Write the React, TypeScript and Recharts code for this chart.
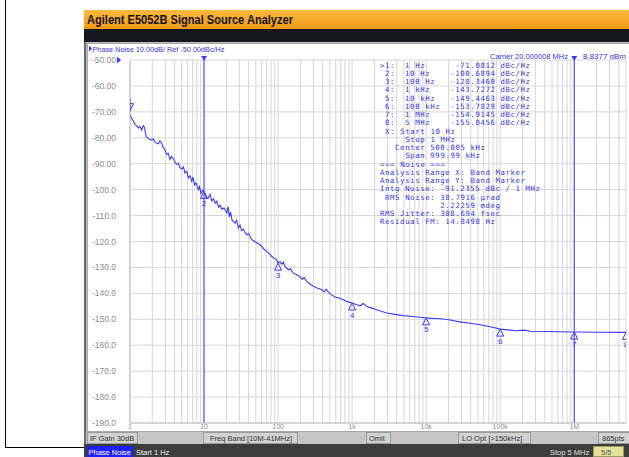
import React from 'react';
import {
  ComposedChart,
  Line,
  Scatter,
  XAxis,
  YAxis,
  CartesianGrid,
  ReferenceLine,
  ReferenceDot,
} from 'recharts';

// ---------- data ----------
const freqHz = [
  1, 1.05, 1.08, 1.11, 1.17, 1.23, 1.29, 1.36, 1.44, 1.51, 1.57, 1.65, 1.75, 1.86, 1.98, 2.08, 2.18, 2.39, 2.54,
  2.68, 2.82, 2.97, 3.13, 3.29, 3.47, 3.64, 3.85, 4.06, 4.28, 4.5, 4.74, 5.05, 5.28, 5.53, 5.84, 6.14, 6.47, 6.82,
  7.1, 7.44, 7.79, 8.37, 8.69, 9.1, 9.55, 10, 10.6, 11.4, 12.05, 12.7, 13.4, 14.1, 14.9, 15.7, 16.4, 17.5, 18.6,
  20.3, 21.1, 22, 22.8, 23.9, 26.2, 27.5, 29.1, 30.6, 32.1, 34, 35.8, 37.8, 39.9, 44.2, 47.4, 51.5, 55.4, 60.2,
  64.7, 70.3, 75.5, 82.2, 88.3, 96, 100, 106, 113, 118, 124, 138, 145, 161, 175, 198, 211, 224, 244, 271, 300, 337,
  390, 419, 446, 479, 520, 589, 667, 763, 856, 1000, 1133, 1283, 1409, 1581, 1808, 2158, 2467, 2944, 3581, 4931,
  6471, 8299, 10000, 13240, 17130, 21090, 26000, 31620, 39330, 53700, 73300, 100000, 128000, 168000, 211000,
  254000, 427000, 647000, 1000000, 2240000, 5000000,
];
const noiseDbc = [
  -71.1, -72.5, -72.9, -73.6, -74.8, -75.4, -76.2, -75.6, -77.0, -75.3, -76.0, -79.6, -80.2, -80.7, -80.9, -80.4,
  -81.8, -82.3, -81.2, -82.0, -83.9, -84.6, -86.5, -86.0, -88.4, -87.2, -88.1, -89.5, -90.3, -89.8, -91.6, -92.0,
  -91.3, -93.6, -93.0, -95.5, -94.6, -96.8, -95.2, -98.2, -97.4, -100.0, -98.8, -101.5, -100.2, -100.7, -102.8,
  -103.2, -101.8, -104.3, -103.5, -105.2, -104.4, -106.8, -106.0, -107.6, -107.0, -109.0, -106.5, -110.5, -108.6,
  -111.8, -112.9, -111.8, -114.8, -113.6, -115.8, -115.2, -116.6, -117.4, -116.9, -119.3, -119.8, -120.6, -121.0,
  -121.9, -123.0, -123.8, -124.6, -125.8, -126.4, -127.2, -128.3, -127.8, -128.8, -127.9, -129.6, -130.9, -130.5,
  -132.2, -132.7, -133.5, -134.6, -133.9, -135.4, -136.5, -137.3, -137.9, -138.6, -139.4, -138.4, -139.6, -140.5,
  -141.4, -141.8, -142.5, -143.2, -143.7, -144.3, -144.8, -143.9, -145.1, -145.6, -146.3, -146.9, -147.6, -148.0,
  -148.6, -148.9, -149.2, -149.45, -149.7, -149.9, -150.3, -150.8, -151.2, -151.5, -152.1, -152.9, -153.8, -154.1,
  -154.4, -154.2, -154.6, -154.7, -154.8, -154.9, -155.0, -155.05,
];
const markerFreqHz = [1, 10, 100, 1000, 10000, 100000, 1000000, 5000000];
const markerDbc = [-71.0812, -100.6894, -128.346, -143.7272, -149.4463, -153.7829, -154.9145, -155.0456];
const markerNames = ['1 Hz', '10 Hz', '100 Hz', '1 kHz', '10 kHz', '100 kHz', '1 MHz', '5 MHz'];
const yTicks = [-50, -60, -70, -80, -90, -100, -110, -120, -130, -140, -150, -160, -170, -180, -190];
const xDecades = [1, 10, 100, 1000, 10000, 100000, 1000000];
const xDecadeLabels = ['1', '10', '100', '1k', '10k', '100k', '1M'];
const bandLimitsHz = [10, 1000000];
const summaryLines = [
  ' X: Start 10 Hz',
  '     Stop 1 MHz',
  '   Center 500.005 kHz',
  '     Span 999.99 kHz',
  '=== Noise ===',
  'Analysis Range X: Band Marker',
  'Analysis Range Y: Band Marker',
  'Intg Noise: -91.2355 dBc / 1 MHz',
  ' RMS Noise: 38.7916 \u00b5rad',
  '            2.22259 mdeg',
  'RMS Jitter: 308.694 fsec',
  'Residual FM: 14.8498 Hz',
];

// ---------- styles ----------
const BLUE = '#3a3aff';
const TXT_BLUE = '#3434e8';
const GRID = '#d6d6d6';
const SANS = "'Liberation Sans', Arial, sans-serif";
const MONO = "'DejaVu Sans Mono', 'Liberation Mono', monospace";

const gridTicks: number[] = [];
xDecades.forEach((d) => {
  for (let k = 1; k <= 9; k++) {
    const v = d * k;
    if (v <= 5000000) gridTicks.push(v);
  }
});

const fmtY = (v: number) => (v > -100 ? v.toFixed(2) : v.toFixed(1));

const YTick = (p: any) => {
  const v = p.payload.value;
  return (
    <g>
      <text x={p.x - 6} y={p.y + 3} textAnchor="end" fontSize={8.5} fontFamily={SANS} fill="#8c8c8c">
        {fmtY(v)}
      </text>
      {v === -50 ? <polygon points={`${p.x - 5},${p.y - 3.5} ${p.x - 5},${p.y + 3.5} ${p.x - 1},${p.y}`} fill={BLUE} /> : null}
    </g>
  );
};

const XTick = (p: any) => {
  const v = p.payload.value;
  const idx = xDecades.indexOf(v);
  if (idx < 0) return <g />;
  return (
    <text x={p.x} y={p.y + 6} textAnchor="middle" fontSize={7} fontFamily={SANS} fill="#8c8c8c">
      {xDecadeLabels[idx]}
    </text>
  );
};

const TraceMarker = (p: any) => {
  const { cx, cy, payload } = p;
  if (payload.n === 1) {
    return (
      <g>
        <line x1={cx} y1={cy - 16} x2={cx} y2={cy - 3} stroke={BLUE} strokeWidth={1} />
        <polygon points={`${cx - 3.5},${cy - 11} ${cx + 3.5},${cy - 11} ${cx},${cy - 4}`} fill="none" stroke={BLUE} strokeWidth={1} />
      </g>
    );
  }
  return (
    <g>
      <polygon points={`${cx},${cy} ${cx - 3.5},${cy + 7} ${cx + 3.5},${cy + 7}`} fill="#fff" fillOpacity={0} stroke={BLUE} strokeWidth={1} />
      <text x={cx} y={cy + 14.5} textAnchor="middle" fontSize={8} fontFamily={SANS} fill={TXT_BLUE}>
        {payload.n}
      </text>
    </g>
  );
};

const AxisMarker = (p: any) => {
  const { cx, cy, payload } = p;
  const active = payload.n === 1;
  return (
    <polygon
      points={`${cx},${cy} ${cx - 3.5},${cy + 6} ${cx + 3.5},${cy + 6}`}
      fill={active ? BLUE : 'none'}
      stroke={BLUE}
      strokeWidth={1}
    />
  );
};

const Flag = (p: any) => {
  const { cx, cy } = p;
  return <polygon points={`${cx - 3},${cy - 4} ${cx + 3},${cy - 4} ${cx},${cy + 1}`} fill={BLUE} />;
};

const markerLine = (i: number) => {
  const prefix = i === 0 ? '>1:  ' : ` ${i + 1}:  `;
  return prefix + markerNames[i].padEnd(9) + markerDbc[i].toFixed(4).padStart(9) + ' dBc/Hz';
};

export default function App() {
  const rows = freqHz.map((f, i) => ({ f, dbc: noiseDbc[i] }));
  const markerRows = markerFreqHz.map((f, i) => ({ f, dbc: markerDbc[i], n: i + 1 }));
  const axisRows = markerFreqHz.map((f, i) => ({ f, dbc: -190, n: i + 1 }));
  const tableLines = [...markerFreqHz.map((_, i) => markerLine(i)), ...summaryLines];

  return (
    <div style={{ position: 'fixed', left: 0, top: 0, width: 629, height: 457, background: '#fff', overflow: 'hidden' }}>
      {/* background frame */}
      <svg width={629} height={457} style={{ position: 'absolute', left: 0, top: 0 }}>
        <defs>
          <linearGradient id="og" x1="0" y1="0" x2="0" y2="1">
            <stop offset="0" stopColor="#fcb93e" />
            <stop offset="1" stopColor="#f29a14" />
          </linearGradient>
        </defs>
        <line x1={5.5} y1={0} x2={5.5} y2={447.5} stroke="#000" strokeWidth={1} />
        <line x1={5} y1={447.5} x2={85} y2={447.5} stroke="#000" strokeWidth={1} />
        <rect x={84} y={10} width={545} height={447} fill="#6a6a6a" />
        <rect x={84} y={10} width={545} height={19} fill="url(#og)" />
        <rect x={84} y={29} width={545} height={13} fill="#16161f" />
        <rect x={86} y={42} width={543} height={390} fill="#bdbdbd" />
        <rect x={87.5} y={43.5} width={542} height={388} fill="#ffffff" stroke="#a8a8a8" strokeWidth={1} />
        {/* status row */}
        <rect x={86} y={432} width={543} height={12} fill="#c6c6c6" />
        <rect x={87.5} y={432.5} width={50} height={11} fill="#d2d2d2" stroke="#9a9a9a" />
        <rect x={203.5} y={432.5} width={94} height={11} fill="#d2d2d2" stroke="#9a9a9a" />
        <rect x={366.5} y={432.5} width={24} height={11} fill="#d2d2d2" stroke="#9a9a9a" />
        <rect x={458.5} y={432.5} width={72} height={11} fill="#d2d2d2" stroke="#9a9a9a" />
        <rect x={598.5} y={432.5} width={31} height={11} fill="#d2d2d2" stroke="#9a9a9a" />
        {/* bottom dark row */}
        <rect x={84} y={444} width={545} height={13} fill="#3d3d3d" />
        <rect x={87} y={446} width={46} height={11} fill="#2020ff" />
        <rect x={593.5} y={446.5} width={30} height={10} fill="#e2e29a" stroke="#9c9c60" />
      </svg>

      {/* chart */}
      <div style={{ position: 'absolute', left: 0, top: 0 }}>
        <ComposedChart width={629} height={457} data={rows} margin={{ top: 60, right: 3, bottom: 14, left: 80 }}>
          <CartesianGrid stroke={GRID} strokeWidth={1} horizontalValues={yTicks} verticalValues={gridTicks} />
          <XAxis
            dataKey="f"
            type="number"
            scale="log"
            domain={[1, 5000000]}
            allowDataOverflow
            ticks={gridTicks}
            interval={0}
            height={20}
            tickLine={false}
            tickSize={0}
            tickMargin={0}
            axisLine={{ stroke: '#bdbdbd' }}
            tick={<XTick />}
          />
          <YAxis
            type="number"
            domain={[-190, -50]}
            allowDataOverflow
            ticks={yTicks}
            interval={0}
            width={50}
            tickLine={false}
            axisLine={{ stroke: '#bdbdbd' }}
            tick={<YTick />}
          />
          {bandLimitsHz.map((b) => (
            <ReferenceLine key={b} x={b} stroke={BLUE} strokeWidth={1} ifOverflow="visible" />
          ))}
          {bandLimitsHz.map((b) => (
            <ReferenceDot key={'f' + b} x={b} y={-50} ifOverflow="visible" shape={<Flag />} />
          ))}
          <Line dataKey="dbc" stroke={BLUE} strokeWidth={1.1} dot={false} isAnimationActive={false} type="linear" />
          <Scatter data={markerRows} dataKey="dbc" shape={<TraceMarker />} isAnimationActive={false} />
          <Scatter data={axisRows} dataKey="dbc" shape={<AxisMarker />} isAnimationActive={false} />
        </ComposedChart>
      </div>

      {/* text overlay */}
      <svg width={629} height={457} style={{ position: 'absolute', left: 0, top: 0, pointerEvents: 'none' }}>
        <text x={87} y={24} fontSize={12.5} fontWeight="bold" fontFamily={SANS} fill="#111" textLength={206} lengthAdjust="spacingAndGlyphs">
          Agilent E5052B Signal Source Analyzer
        </text>
        <polygon points="89,45.5 89,51.5 92,48.5" fill={BLUE} />
        <text x={92.5} y={51.5} fontSize={8} fontFamily={SANS} fill={TXT_BLUE} textLength={132} lengthAdjust="spacingAndGlyphs">
          Phase Noise 10.00dB/ Ref -50.00dBc/Hz
        </text>
        <text x={490} y={59} fontSize={8} fontFamily={SANS} fill={TXT_BLUE} textLength={78} lengthAdjust="spacingAndGlyphs">
          Carrier 20.000008 MHz
        </text>
        <text x={583} y={59} fontSize={8} fontFamily={SANS} fill={TXT_BLUE} textLength={43} lengthAdjust="spacingAndGlyphs">
          8.8377 dBm
        </text>
        {tableLines.map((l, i) => (
          <text
            key={i}
            x={380}
            y={67.5 + i * 8.25}
            fontSize={7.3}
            fontFamily={MONO}
            fill={TXT_BLUE}
            xmlSpace="preserve"
            style={{ whiteSpace: 'pre' }}
            textLength={l.length * 5}
            lengthAdjust="spacing"
          >
            {l}
          </text>
        ))}
        <text x={90} y={441} fontSize={7.5} fontFamily={SANS} fill="#333">IF Gain 30dB</text>
        <text x={210} y={441} fontSize={7.5} fontFamily={SANS} fill="#333">Freq Band [10M-41MHz]</text>
        <text x={369} y={441} fontSize={7.5} fontFamily={SANS} fill="#333">Omit</text>
        <text x={462} y={441} fontSize={7.5} fontFamily={SANS} fill="#333">LO Opt [&gt;150kHz]</text>
        <text x={602} y={441} fontSize={7.5} fontFamily={SANS} fill="#333">865pts</text>
        <text x={88.5} y={454.5} fontSize={7.5} fontFamily={SANS} fill="#fff">Phase Noise</text>
        <text x={136} y={454.5} fontSize={7.5} fontFamily={SANS} fill="#f0f0f0">Start 1 Hz</text>
        <text x={550} y={454.5} fontSize={7.5} fontFamily={SANS} fill="#e0e0e0">Stop 5 MHz</text>
        <text x={601} y={454.5} fontSize={7.5} fontFamily={SANS} fill="#555">5/5</text>
      </svg>
    </div>
  );
}
